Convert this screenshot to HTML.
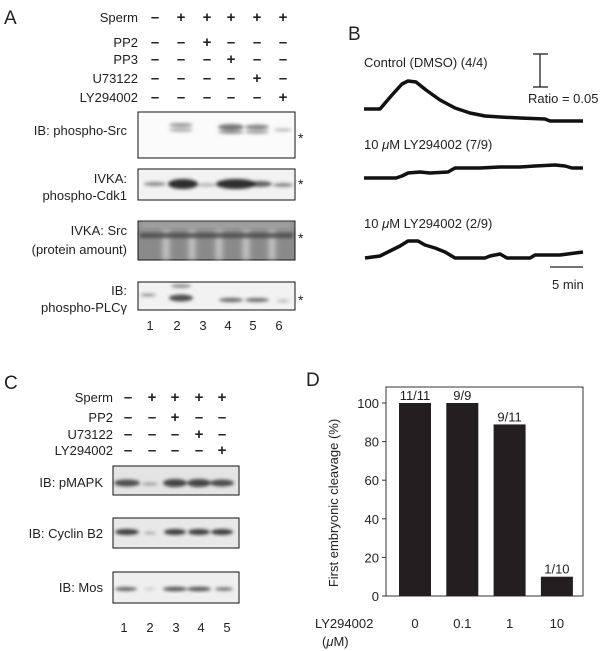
<!DOCTYPE html>
<html><head><meta charset="utf-8"><style>
html,body{margin:0;padding:0;background:#fff;}
svg{display:block;font-family:"Liberation Sans",Arial,sans-serif;}
</style></head><body>
<svg width="608" height="651" viewBox="0 0 608 651">
<defs>
<filter id="bl" x="-20%" y="-50%" width="140%" height="200%"><feGaussianBlur stdDeviation="1.6"/></filter>
<filter id="bl2" x="-20%" y="-50%" width="140%" height="200%"><feGaussianBlur stdDeviation="3"/></filter>
</defs>

<!-- PANEL A -->
<g font-size="13" fill="#222">
<text x="4" y="24" font-size="19">A</text>
<g text-anchor="end">
<text x="138" y="22">Sperm</text><text x="138" y="47">PP2</text><text x="138" y="64">PP3</text><text x="138" y="83">U73122</text><text x="138" y="102">LY294002</text>
</g>
<g text-anchor="middle" font-size="15" font-weight="bold">
<text x="155" y="22">–</text><text x="181" y="22">+</text><text x="207" y="22">+</text><text x="231" y="22">+</text><text x="257" y="22">+</text><text x="283" y="22">+</text>
<text x="155" y="47">–</text><text x="181" y="47">–</text><text x="207" y="47">+</text><text x="231" y="47">–</text><text x="257" y="47">–</text><text x="283" y="47">–</text>
<text x="155" y="64">–</text><text x="181" y="64">–</text><text x="207" y="64">–</text><text x="231" y="64">+</text><text x="257" y="64">–</text><text x="283" y="64">–</text>
<text x="155" y="83">–</text><text x="181" y="83">–</text><text x="207" y="83">–</text><text x="231" y="83">–</text><text x="257" y="83">+</text><text x="283" y="83">–</text>
<text x="155" y="102">–</text><text x="181" y="102">–</text><text x="207" y="102">–</text><text x="231" y="102">–</text><text x="257" y="102">–</text><text x="283" y="102">+</text>
</g>
<g text-anchor="end">
<text x="127" y="135">IB: phospho-Src</text>
<text x="127" y="183">IVKA:</text><text x="127" y="200">phospho-Cdk1</text>
<text x="127" y="235">IVKA: Src</text><text x="127" y="254">(protein amount)</text>
<text x="127" y="295">IB:</text><text x="127" y="312">phospho-PLCγ</text>
</g>
<!-- blot 1 -->
<g>
<rect x="138" y="112" width="157" height="46" fill="#fbfbfb" stroke="#111"/>
<g filter="url(#bl)" fill="#555">
<ellipse cx="181" cy="125" rx="12" ry="2" opacity=".6"/><ellipse cx="181" cy="130" rx="12" ry="1.8" opacity=".5"/>
<ellipse cx="231" cy="127" rx="13" ry="3" opacity=".8"/><ellipse cx="231" cy="132" rx="13" ry="2" opacity=".6"/>
<ellipse cx="257" cy="127" rx="12" ry="2.5" opacity=".7"/><ellipse cx="257" cy="132" rx="12" ry="2" opacity=".5"/>
<ellipse cx="283" cy="130" rx="9" ry="1.8" opacity=".35"/>
</g></g>
<!-- blot 2 -->
<g>
<rect x="138" y="169" width="157" height="31" fill="#f2f2f2" stroke="#111"/>
<g filter="url(#bl)" fill="#222">
<ellipse cx="155" cy="184" rx="11" ry="2" opacity=".5"/>
<ellipse cx="183" cy="184" rx="15" ry="5" opacity=".95"/>
<ellipse cx="207" cy="185" rx="10" ry="1.5" opacity=".35"/>
<ellipse cx="236" cy="184" rx="20" ry="5" opacity=".95"/>
<ellipse cx="260" cy="184" rx="12" ry="3" opacity=".7"/>
<ellipse cx="283" cy="185" rx="10" ry="2" opacity=".5"/>
</g></g>
<!-- blot 3 -->
<g>
<rect x="138" y="221" width="157" height="39" fill="#8a8a8a" stroke="#111"/>
<g filter="url(#bl2)" fill="#ddd">
<rect x="163" y="230" width="6" height="30" opacity=".8"/><rect x="189" y="230" width="6" height="30" opacity=".8"/>
<rect x="216" y="230" width="6" height="30" opacity=".8"/><rect x="243" y="230" width="6" height="30" opacity=".8"/>
<rect x="269" y="230" width="6" height="30" opacity=".8"/>
</g>
<g filter="url(#bl)" fill="#444"><rect x="140" y="233" width="153" height="5" opacity=".8"/></g>
<g filter="url(#bl2)" fill="#bbb"><rect x="140" y="222" width="153" height="6" opacity=".6"/></g>
</g>
<!-- blot 4 -->
<g>
<rect x="138" y="282" width="157" height="28" fill="#f2f2f2" stroke="#111"/>
<g filter="url(#bl)" fill="#333">
<ellipse cx="148" cy="295" rx="8" ry="1.5" opacity=".5"/>
<ellipse cx="181" cy="298" rx="12" ry="3.5" opacity=".85"/><ellipse cx="181" cy="286" rx="10" ry="2" opacity=".5"/>
<ellipse cx="231" cy="300" rx="12" ry="2.2" opacity=".7"/><ellipse cx="257" cy="300" rx="12" ry="2" opacity=".7"/>
<ellipse cx="283" cy="301" rx="6" ry="1.3" opacity=".35"/>
</g></g>
<g font-size="14">
<text x="298" y="143">*</text><text x="298" y="189">*</text><text x="298" y="243">*</text><text x="298" y="305">*</text>
</g>
<g text-anchor="middle">
<text x="150" y="330">1</text><text x="177" y="330">2</text><text x="203" y="330">3</text><text x="228" y="330">4</text><text x="253" y="330">5</text><text x="279" y="330">6</text>
</g>
</g>

<!-- PANEL B -->
<g font-size="13" fill="#222">
<text x="348" y="40" font-size="19">B</text>
<text x="364" y="67">Control (DMSO) (4/4)</text>
<text x="364" y="149">10 <tspan font-style="italic">μ</tspan>M LY294002 (7/9)</text>
<text x="364" y="228">10 <tspan font-style="italic">μ</tspan>M LY294002 (2/9)</text>
<g stroke="#222" stroke-width="1.3">
<line x1="540" y1="54" x2="540" y2="87"/><line x1="533" y1="54" x2="548" y2="54"/><line x1="533" y1="87" x2="548" y2="87"/>
</g>
<text x="528" y="103">Ratio = 0.05</text>
<g fill="none" stroke="#111" stroke-width="3.5" stroke-linejoin="round">
<polyline points="364,109 380,109 392,95 402,84 408,81 416,82 426,90 440,100 455,108 470,113 485,116 500,117 520,118 545,119 550,121 583,121"/>
<polyline points="364,178 396,178 402,176 408,173 420,172 430,173 448,172 455,168 480,168 500,167 520,167 535,166 555,165 565,166 572,168 583,168"/>
<polyline points="365,258 380,256 390,251 400,246 408,241 418,241 425,245 435,248 445,252 455,258 485,258 490,256 500,254 507,258 530,258 535,255 560,255 583,252"/>
</g>
<line x1="550" y1="267" x2="583" y2="267" stroke="#222" stroke-width="1.3"/>
<text x="552" y="289">5 min</text>
</g>

<!-- PANEL C -->
<g font-size="13" fill="#222">
<text x="4" y="389" font-size="19">C</text>
<g text-anchor="end">
<text x="113" y="402">Sperm</text><text x="113" y="422">PP2</text><text x="113" y="439">U73122</text><text x="113" y="455">LY294002</text>
</g>
<g text-anchor="middle" font-size="15" font-weight="bold">
<text x="128" y="402">–</text><text x="152" y="402">+</text><text x="175" y="402">+</text><text x="199" y="402">+</text><text x="222" y="402">+</text>
<text x="128" y="422">–</text><text x="152" y="422">–</text><text x="175" y="422">+</text><text x="199" y="422">–</text><text x="222" y="422">–</text>
<text x="128" y="439">–</text><text x="152" y="439">–</text><text x="175" y="439">–</text><text x="199" y="439">+</text><text x="222" y="439">–</text>
<text x="128" y="455">–</text><text x="152" y="455">–</text><text x="175" y="455">–</text><text x="199" y="455">–</text><text x="222" y="455">+</text>
</g>
<g text-anchor="end">
<text x="103" y="487">IB: pMAPK</text><text x="103" y="538">IB: Cyclin B2</text><text x="103" y="592">IB: Mos</text>
</g>
<g>
<rect x="113" y="466" width="126" height="29" fill="#e4e4e4" stroke="#111"/>
<g filter="url(#bl)" fill="#333">
<ellipse cx="127" cy="483" rx="13" ry="3.5" opacity=".85"/><ellipse cx="150" cy="484" rx="8" ry="1.5" opacity=".4"/>
<ellipse cx="175" cy="483" rx="12" ry="4" opacity=".9"/><ellipse cx="199" cy="483" rx="12" ry="4" opacity=".9"/><ellipse cx="222" cy="483" rx="12" ry="3.5" opacity=".85"/>
</g></g>
<g>
<rect x="113" y="518" width="126" height="30" fill="#e8e8e8" stroke="#111"/>
<g filter="url(#bl)" fill="#222">
<ellipse cx="127" cy="532" rx="12" ry="3" opacity=".85"/><ellipse cx="150" cy="533" rx="6" ry="1.2" opacity=".3"/>
<ellipse cx="175" cy="532" rx="11" ry="3" opacity=".85"/><ellipse cx="199" cy="532" rx="11" ry="3" opacity=".85"/><ellipse cx="222" cy="532" rx="11" ry="3" opacity=".85"/>
</g></g>
<g>
<rect x="113" y="572" width="126" height="31" fill="#efefef" stroke="#111"/>
<g filter="url(#bl)" fill="#333">
<ellipse cx="126" cy="589" rx="11" ry="2" opacity=".75"/><ellipse cx="150" cy="589" rx="5" ry="1" opacity=".25"/>
<ellipse cx="175" cy="589" rx="12" ry="2.3" opacity=".8"/><ellipse cx="199" cy="589" rx="12" ry="2.3" opacity=".8"/><ellipse cx="224" cy="589" rx="9" ry="1.8" opacity=".65"/>
</g></g>
<g text-anchor="middle">
<text x="124" y="632">1</text><text x="150" y="632">2</text><text x="176" y="632">3</text><text x="201" y="632">4</text><text x="227" y="632">5</text>
</g>
</g>

<!-- PANEL D -->
<g id="panelD" font-size="13" fill="#222">
<text x="306" y="386" font-size="19">D</text>
<rect x="386" y="387" width="197" height="209" fill="none" stroke="#333" stroke-width="1"/>
<text transform="translate(338,503) rotate(-90)" text-anchor="middle">First embryonic cleavage (%)</text>
<text x="315" y="628">LY294002</text>
<text x="322" y="646">(<tspan font-style="italic">μ</tspan>M)</text>
</g>
</svg>
<script>
const categories = ['0', '0.1', '1', '10'];
const values = [100, 100, 88.9, 10];
const barLabels = ['11/11', '9/9', '9/11', '1/10'];
const yTicks = [0, 20, 40, 60, 80, 100];

const NS = 'http://www.w3.org/2000/svg';
const g = document.getElementById('panelD');
function yScale(v){ return 596 - v * 1.93; }
function xScale(i){ return 415 + i * 47.3; }
const barW = 32;

yTicks.forEach(function(t){
  const ln = document.createElementNS(NS, 'line');
  ln.setAttribute('x1', 382); ln.setAttribute('x2', 386);
  ln.setAttribute('y1', yScale(t)); ln.setAttribute('y2', yScale(t));
  ln.setAttribute('stroke', '#333');
  
  
  g.appendChild(ln);
  const tx = document.createElementNS(NS, 'text');
  tx.setAttribute('x', 379); tx.setAttribute('y', yScale(t) + 5);
  tx.setAttribute('text-anchor', 'end');
  tx.textContent = t;
  
  
  g.appendChild(tx);
});

categories.forEach(function(c, i){
  const r = document.createElementNS(NS, 'rect');
  r.setAttribute('x', xScale(i) - barW / 2);
  r.setAttribute('y', yScale(values[i]));
  r.setAttribute('width', barW);
  r.setAttribute('height', yScale(0) - yScale(values[i]));
  r.setAttribute('fill', '#231f20');
  
  
  g.appendChild(r);
  const vl = document.createElementNS(NS, 'text');
  vl.setAttribute('x', xScale(i)); vl.setAttribute('y', yScale(values[i]) - 3);
  vl.setAttribute('text-anchor', 'middle');
  vl.textContent = barLabels[i];
  
  
  g.appendChild(vl);
  const cl = document.createElementNS(NS, 'text');
  cl.setAttribute('x', xScale(i)); cl.setAttribute('y', 628);
  cl.setAttribute('text-anchor', 'middle');
  cl.textContent = c;
  
  
  g.appendChild(cl);
});
</script>
</body></html>
